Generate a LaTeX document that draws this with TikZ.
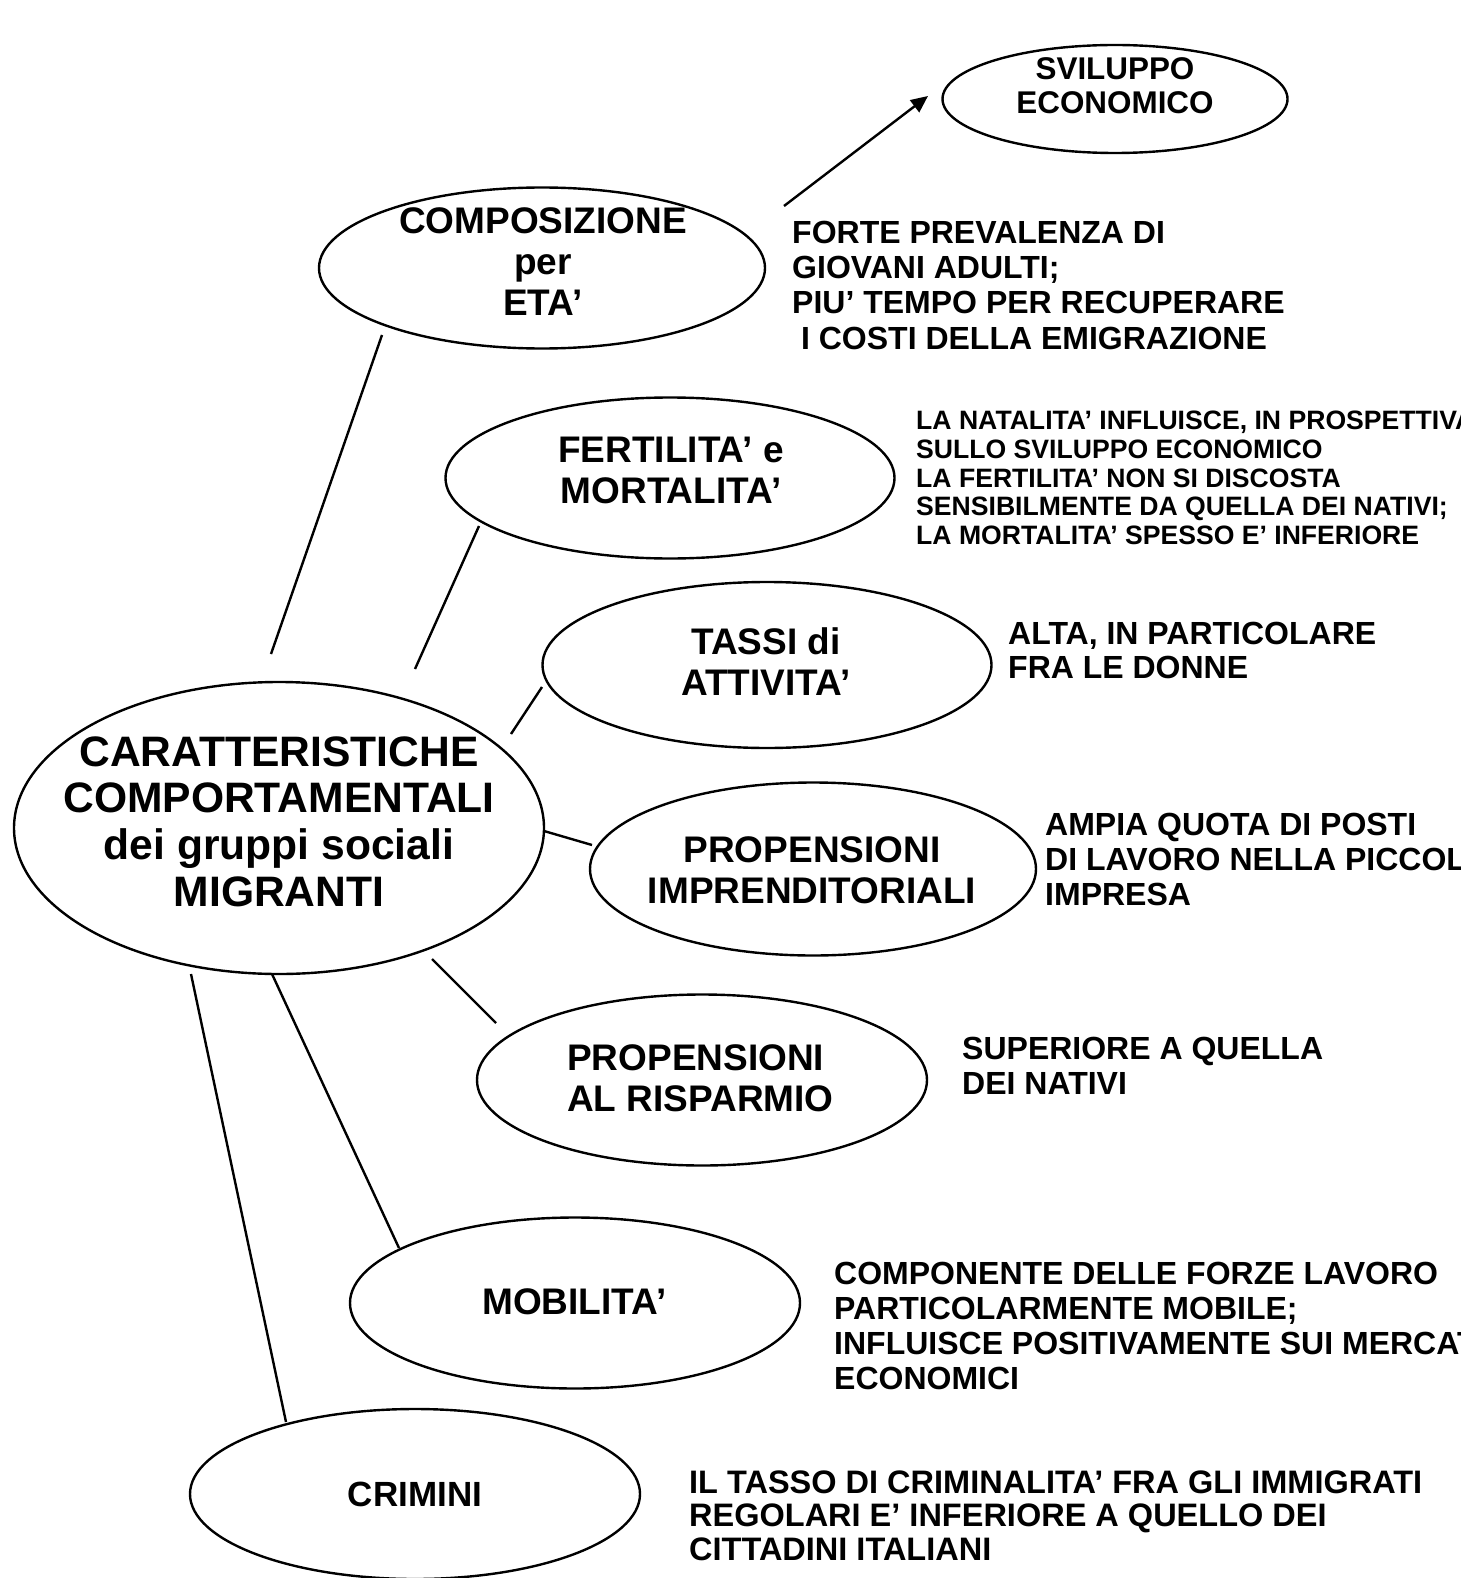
\documentclass[tikz,border=0pt]{standalone}
\usepackage{fontspec}
\setmainfont{Liberation Sans}
\usetikzlibrary{shapes.geometric,arrows.meta}

\tikzset{
  oval/.style={ellipse, draw, line width=2.4pt, inner sep=0pt},
  ovtxt/.style={align=center, inner sep=0pt, anchor=center},
  note/.style={align=left, anchor=north west, inner sep=0pt,
               font=\bfseries\fontsize{32}{35.2}\selectfont},
  link/.style={line width=2.4pt},
}
\newcommand{\fs}[2]{\bfseries\fontsize{#1}{#2}\selectfont}

\begin{document}
\begin{tikzpicture}[x=1pt, y=-1pt]
\useasboundingbox (0,0) rectangle (1460,1578);
\fill[white] (0,0) rectangle (1460,1578);
\clip (0,0) rectangle (1460,1578);

% ellipses
\node[oval, minimum width=345, minimum height=108] (svil) at (1115,99) {};
\node[oval, minimum width=446, minimum height=161] (comp) at (542,268) {};
\node[oval, minimum width=449, minimum height=161] (fert) at (670,478) {};
\node[oval, minimum width=449, minimum height=166] (tassi) at (767,665) {};
\node[oval, minimum width=530, minimum height=292] (main) at (279,828) {};
\node[oval, minimum width=446, minimum height=173] (impr) at (813,869) {};
\node[oval, minimum width=450, minimum height=171] (risp) at (702,1080) {};
\node[oval, minimum width=450, minimum height=171] (mob) at (575,1303) {};
\node[oval, minimum width=450, minimum height=170] (crim) at (415,1494) {};

% ellipse labels
\node[ovtxt, font=\fs{31.4}{33.7}] (svil-t) at (1115,86) {SVILUPPO\\ECONOMICO};
\node[ovtxt, font=\fs{37}{41}] (comp-t) at (543,262) {COMPOSIZIONE\\per\\ETA'};
\node[ovtxt, font=\fs{37}{41}] (fert-t) at (671,470.5) {FERTILITA' e\\MORTALITA'};
\node[ovtxt, font=\fs{37}{41}] (tassi-t) at (766,661.5) {TASSI di\\ATTIVITA'};
\node[ovtxt, font=\fs{42.6}{46.6}] (main-t) at (279,821.5)
  {CARATTERISTICHE\\COMPORTAMENTALI\\dei gruppi sociali\\MIGRANTI};
\node[ovtxt, font=\fs{37}{41}] (impr-t) at (812,870) {PROPENSIONI\\IMPRENDITORIALI};
\node[inner sep=0pt, align=left, anchor=west, font=\fs{37}{41}] (risp-t) at (567,1078)
  {PROPENSIONI\\AL RISPARMIO};
\node[ovtxt, font=\fs{37}{41}] (mob-t) at (574.5,1302) {MOBILITA'};
\node[ovtxt, font=\fs{35}{39}] (crim-t) at (415,1494) {CRIMINI};

% side notes
\node[note] (n-comp) at (792,221)
  {FORTE PREVALENZA DI\\GIOVANI ADULTI;\\PIU' TEMPO PER RECUPERARE\\\ I COSTI DELLA EMIGRAZIONE};
\node[note, font=\bfseries\fontsize{26.6}{28.7}\selectfont] (n-fert) at (916,411)
  {LA NATALITA' INFLUISCE, IN PROSPETTIVA,\\SULLO SVILUPPO ECONOMICO\\LA FERTILITA' NON SI DISCOSTA\\SENSIBILMENTE DA QUELLA DEI NATIVI;\\LA MORTALITA' SPESSO E' INFERIORE};
\node[note, font=\bfseries\fontsize{32}{34.2}\selectfont] (n-tassi) at (1008,621.5)
  {ALTA, IN PARTICOLARE\\FRA LE DONNE};
\node[note] (n-impr) at (1045,812.5)
  {AMPIA QUOTA DI POSTI\\DI LAVORO NELLA PICCOLA\\IMPRESA};
\node[note] (n-risp) at (962,1037)
  {SUPERIORE A QUELLA\\DEI NATIVI};
\node[note] (n-mob) at (834,1261.5)
  {COMPONENTE DELLE FORZE LAVORO\\PARTICOLARMENTE MOBILE;\\INFLUISCE POSITIVAMENTE SUI MERCATI\\ECONOMICI};
\node[note, font=\bfseries\fontsize{32.5}{33.3}\selectfont] (n-crim) at (689,1470.5)
  {IL TASSO DI CRIMINALITA' FRA GLI IMMIGRATI\\REGOLARI E' INFERIORE A QUELLO DEI\\CITTADINI ITALIANI};

% connector end points
\coordinate (c1a) at (382,335);  \coordinate (c1b) at (271,654);
\coordinate (c2a) at (479,526);  \coordinate (c2b) at (415,669);
\coordinate (c3a) at (542,687);  \coordinate (c3b) at (511,734);
\coordinate (c4a) at (544,831);  \coordinate (c4b) at (592,845);
\coordinate (c5a) at (432,959);  \coordinate (c5b) at (496,1023);
\coordinate (c6a) at (272,974);  \coordinate (c6b) at (399,1248);
\coordinate (c7a) at (191,974);  \coordinate (c7b) at (286,1422);
\coordinate (arA) at (784,206);  \coordinate (arB) at (928,96);

% connectors
\draw[link] (c1a) -- (c1b);
\draw[link] (c2a) -- (c2b);
\draw[link] (c3a) -- (c3b);
\draw[link] (c4a) -- (c4b);
\draw[link] (c5a) -- (c5b);
\draw[link] (c6a) -- (c6b);
\draw[link] (c7a) -- (c7b);
\draw[link, -{Triangle[length=17pt,width=15pt]}] (arA) -- (arB);
\end{tikzpicture}
\end{document}
